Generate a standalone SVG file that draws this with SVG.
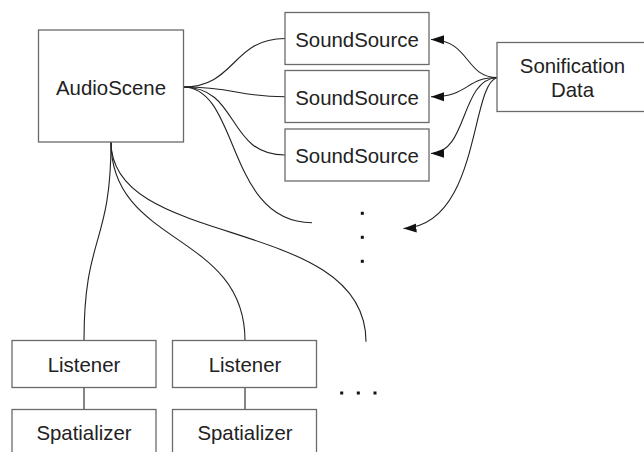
<svg xmlns="http://www.w3.org/2000/svg" width="644" height="452" viewBox="0 0 644 452">
<style>
.box{fill:#fff;stroke:#6a6a6a;stroke-width:1.3}
.lbl{font-family:"Liberation Sans",Arial,sans-serif;font-size:20.4px;fill:#222;text-anchor:middle}
.ln{fill:none;stroke:#222;stroke-width:1.1}
.dot{fill:#111}
</style>
<defs>
<marker id="ah" markerWidth="14" markerHeight="10" refX="13" refY="5" orient="auto" markerUnits="userSpaceOnUse">
<path d="M0,5 L13,0.5 L13,9.5 Z" fill="#111" transform="rotate(180 6.5 5)"/>
</marker>
</defs>
<g id="connectors">
<path class="ln" d="M183,87 C236,87 232,38.5 285,38.5"/>
<path class="ln" d="M183,87 C236,87 236,96.7 285,96.7"/>
<path class="ln" d="M183,87 C240,87 226,155 285,155"/>
<path class="ln" d="M183,87 C240,87 226,222.7 312,222.7"/>
<path class="ln" d="M111,142 C111,245 84,235 84,340.5"/>
<path class="ln" d="M111,142 C111,246 245,232 245,340.5"/>
<path class="ln" d="M111,142 C111,250 366,215 366,341.7"/>
<path class="ln" d="M84,387.5 V409.5"/>
<path class="ln" d="M245,387.5 V409.5"/>
<path class="ln" marker-end="url(#ah)" d="M497,77.5 C465,77.5 470,40 431,39.5"/>
<path class="ln" marker-end="url(#ah)" d="M497,77.5 C465,77.5 470,96.7 431,96.7"/>
<path class="ln" marker-end="url(#ah)" d="M497,77.5 C460,80 468,153 431,153.5"/>
<path class="ln" marker-end="url(#ah)" d="M497,77.5 C470,85 480,225 403.5,228.5"/>
</g>
<g id="audioscene"><rect class="box" x="38.5" y="30" width="145" height="112"/><text class="lbl" x="111" y="94.5">AudioScene</text></g>
<g id="soundsource1"><rect class="box" x="285" y="12.5" width="144" height="52"/><text class="lbl" x="357" y="46.5">SoundSource</text></g>
<g id="soundsource2"><rect class="box" x="285" y="70.5" width="144" height="52"/><text class="lbl" x="357" y="104.5">SoundSource</text></g>
<g id="soundsource3"><rect class="box" x="285" y="129" width="144" height="52"/><text class="lbl" x="357" y="162.5">SoundSource</text></g>
<g id="sonification"><rect class="box" x="497" y="42.5" width="160" height="69"/><text class="lbl" x="572.5" y="72.5">Sonification</text><text class="lbl" x="572.5" y="96.5">Data</text></g>
<g id="listener1"><rect class="box" x="12" y="340.5" width="144" height="47"/><text class="lbl" x="84" y="371.5">Listener</text></g>
<g id="listener2"><rect class="box" x="172.5" y="340.5" width="144" height="47"/><text class="lbl" x="245" y="371.5">Listener</text></g>
<g id="spatializer1"><rect class="box" x="12" y="409.5" width="144" height="60"/><text class="lbl" x="84" y="440">Spatializer</text></g>
<g id="spatializer2"><rect class="box" x="172.5" y="409.5" width="144" height="60"/><text class="lbl" x="245" y="440">Spatializer</text></g>
<g id="ellipses">
<rect class="dot" x="360.8" y="211.8" width="3" height="3"/>
<rect class="dot" x="360.8" y="235.8" width="3" height="3"/>
<rect class="dot" x="360.8" y="259.8" width="3" height="3"/>
<rect class="dot" x="340.2" y="391.5" width="3" height="3"/>
<rect class="dot" x="356.8" y="391.5" width="3" height="3"/>
<rect class="dot" x="373.5" y="391.5" width="3" height="3"/>
</g>
</svg>
